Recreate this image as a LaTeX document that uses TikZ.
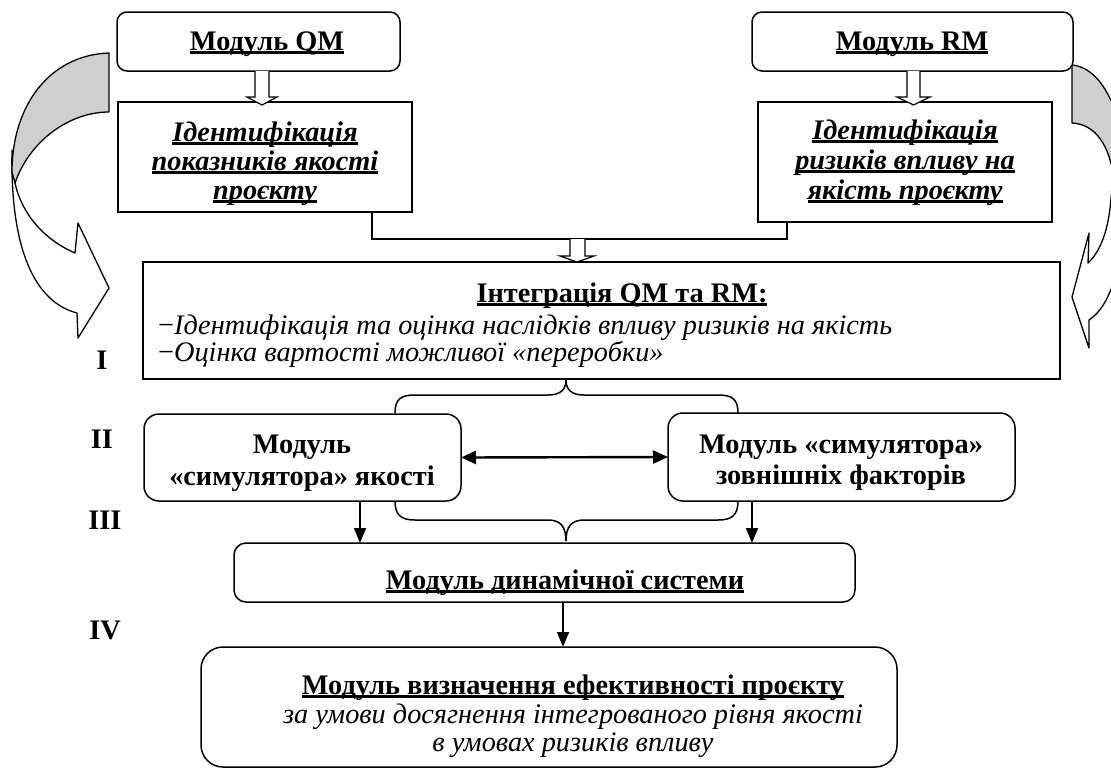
\documentclass[tikz,border=0pt]{standalone}
\usepackage{fontspec}
\setmainfont{Liberation Serif}
\usetikzlibrary{arrows.meta}
\newcommand{\ulx}[1]{\setbox0\hbox{#1}\rlap{\rule[-0.13em]{\wd0}{0.08em}}\box0}
\tikzset{
 bx/.style={draw, line width=1.5pt, fill=white, inner sep=0pt, outer sep=0pt},
 rbx/.style={bx, rounded corners=#1},
 tx/.style={anchor=base, inner sep=0pt, font=\fontsize{28.3}{30}\selectfont},
 btx/.style={anchor=base, inner sep=0pt, font=\fontsize{28.3}{30}\selectfont\bfseries},
 bitx/.style={anchor=base, inner sep=0pt, font=\fontsize{28.3}{30}\selectfont\bfseries\itshape},
 itx/.style={anchor=base, inner sep=0pt, font=\fontsize{28.3}{30}\selectfont\itshape},
 hollow/.style={draw, line width=1.2pt, fill=white, line join=miter},
 conn/.style={draw, line width=1.5pt},
 arr/.style={draw, line width=1.8pt, -{Triangle[length=15pt,width=12pt]}},
 curv/.style={draw, line width=1.3pt, line join=round},
}
\begin{document}
\begin{tikzpicture}[x=1pt,y=-1pt]
\useasboundingbox (0,0) rectangle (1111,774);
% curved arrows
\begin{scope}
\clip (0,0) rectangle (1111,774);
% left
\path[curv, fill=white] (12,150) .. controls (10,250) and (35,302) .. (77,313)
  -- (78,338) -- (109,288) -- (78,223) -- (75,253)
  .. controls (45,240) and (22,215) .. (15,183) -- cycle;
\path[curv, fill=black!19] (109,53) .. controls (50,55) and (12,105) .. (12,172)
  -- (15,183) .. controls (30,140) and (70,112) .. (109,112) -- cycle;
% right
\path[curv, fill=white] (1126,170) .. controls (1126,260) and (1112,305) .. (1089,320)
  -- (1089,348) -- (1072,297) -- (1089,233) -- (1088,263)
  .. controls (1102,250) and (1111,225) .. (1112,180) -- cycle;
\path[curv, fill=black!19] (1072,65) .. controls (1105,68) and (1126,120) .. (1127,185)
  -- (1114,180) .. controls (1110,145) and (1095,124) .. (1072,123) -- cycle;
\end{scope}
% braces
\draw[line width=1.5pt] (395,413) .. controls (395,399) and (401,395) .. (415,395) -- (548,395)
  .. controls (560,395) and (566,390) .. (566,380)
  .. controls (566,390) and (572,395) .. (584,395) -- (718,395)
  .. controls (732,395) and (738,399) .. (738,413);
\draw[line width=1.5pt] (395,501) .. controls (395,515) and (401,520) .. (415,520) -- (548,520)
  .. controls (560,520) and (566,526) .. (566,541)
  .. controls (566,526) and (572,520) .. (584,520) -- (718,520)
  .. controls (732,520) and (738,515) .. (738,501);
% boxes
\node[rbx=10pt, minimum width=283pt, minimum height=59pt] (qm) at (258.5,41.5) {};
\node[rbx=10pt, minimum width=321pt, minimum height=59pt] (rm) at (912.5,41.5) {};
\node[bx, minimum width=294pt, minimum height=110pt] (idqm) at (265,157) {};
\node[bx, minimum width=294pt, minimum height=120pt] (idrm) at (905,162) {};
\node[bx, minimum width=917pt, minimum height=117pt] (integ) at (601.5,320.5) {};
\node[rbx=15pt, minimum width=317pt, minimum height=87pt] (lm) at (302.5,457.5) {};
\node[rbx=15pt, minimum width=347pt, minimum height=88pt] (rmod) at (841.5,457) {};
\node[rbx=12pt, minimum width=621pt, minimum height=59pt] (dyn) at (544.5,572.5) {};
\node[rbx=22pt, minimum width=696pt, minimum height=120pt] (fin) at (549,707) {};
% hollow arrows
\path[hollow] (255,71) -- (255,97) -- (247,97) -- (262,105) -- (277,97) -- (269,97) -- (269,71);
\path[hollow] (907,71) -- (907,97) -- (897,97) -- (913.5,105) -- (930,97) -- (920,97) -- (920,71);
% connector between ident boxes
\coordinate (j1) at (372,239);
\coordinate (j2) at (787,239);
\draw[conn] (idqm.south -| j1) |- (j2) -- (idrm.south -| j2);
\path[hollow] (570,239) -- (570,256) -- (560,256) -- (577,262) -- (594,256) -- (585,256) -- (585,239);
% arrows
\draw[line width=2.4pt, {Triangle[length=15pt,width=13pt]}-{Triangle[length=15pt,width=13pt]}] (lm.east) -- (rmod.west);
\coordinate (a1) at (360,0);
\coordinate (a2) at (752,0);
\coordinate (a3) at (563,0);
\draw[arr] (lm.south -| a1) -- (dyn.north -| a1);
\draw[arr] (rmod.south -| a2) -- (dyn.north -| a2);
\draw[arr] (dyn.south -| a3) -- (fin.north -| a3);
% texts
\node[btx] (tqm) at (267,50) {\ulx{Модуль QM}};
\node[btx] (trm) at (912,50) {\ulx{Модуль RM}};
\node[bitx] (tq1) at (265,141) {\ulx{Ідентифікація}};
\node[bitx] (tq2) at (265,170) {\ulx{показників якості}};
\node[bitx] (tq3) at (265,199) {\ulx{проєкту}};
\node[bitx] (tr1) at (905,139) {\ulx{Ідентифікація}};
\node[bitx] (tr2) at (905,169) {\ulx{ризиків впливу на}};
\node[bitx] (tr3) at (905,199) {\ulx{якість проєкту}};
\node[btx] (ti0) at (622,302) {\ulx{Інтеграція QM та RM:}};
\node[tx, anchor=base west] (ti1) at (158,334) {−\textit{Ідентифікація та оцінка наслідків впливу ризиків на якість}};
\node[tx, anchor=base west] (ti2) at (158,361) {−\textit{Оцінка вартості можливої «переробки»}};
\node[btx] (tl1) at (302,453) {Модуль};
\node[btx] (tl2) at (302,485) {«симулятора» якості};
\node[btx] (tm1) at (841,453) {Модуль «симулятора»};
\node[btx] (tm2) at (841,484) {зовнішніх факторів};
\node[btx] (td) at (565,589) {\ulx{Модуль динамічної системи}};
\node[btx] (tf1) at (573,694) {\ulx{Модуль визначення ефективності проєкту}};
\node[itx] (tf2) at (573,723) {за умови досягнення інтегрованого рівня якості};
\node[itx] (tf3) at (573,751) {в умовах ризиків впливу};
\node[btx] (r1) at (102,369) {I};
\node[btx] (r2) at (102,448) {II};
\node[btx] (r3) at (105,529) {III};
\node[btx] (r4) at (105,639) {IV};
\end{tikzpicture}
\end{document}
